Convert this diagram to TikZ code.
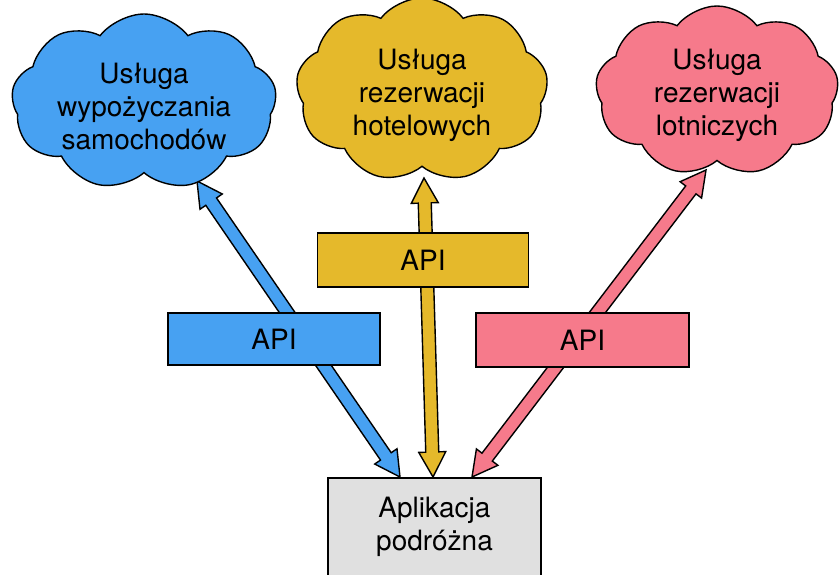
\documentclass[tikz,border=0pt]{standalone}
\usepackage{fontspec}
\setmainfont{TeX Gyre Heros}
\usetikzlibrary{shapes.symbols,calc}
\pgfdeclarelayer{background}
\pgfsetlayers{background,main}
\definecolor{cblue}{HTML}{47A1F2}
\definecolor{cyellow}{HTML}{E5B92B}
\definecolor{cpink}{HTML}{F67A8B}
\definecolor{cgray}{HTML}{E0E0E0}
\tikzset{
  outl/.style={draw=black, line width=1.4pt},
  cloudbox/.style={outl, cloud, cloud puffs=9, cloud puff arc=105, cloud ignores aspect,
    inner sep=0pt},
  labeltext/.style={align=center, font=\fontsize{28}{33}\selectfont},
  apibox/.style={outl, rectangle, inner sep=0pt, font=\fontsize{28}{33}\selectfont},
  appbox/.style={outl, rectangle, fill=cgray, inner sep=0pt, minimum width=213pt, minimum height=124pt},
}
\newcommand{\fatarr}[3]{%
  \coordinate (fa1) at ($(#2)!25pt!(#3)$);
  \coordinate (fb1) at ($(#3)!25pt!(#2)$);
  \draw[outl, fill=#1, line join=miter]
    (#2) -- ($(fa1)!13.5pt!90:(#3)$) -- ($(fa1)!6.5pt!90:(#3)$)
    -- ($(fb1)!6.5pt!-90:(#2)$) -- ($(fb1)!13.5pt!-90:(#2)$) -- (#3)
    -- ($(fb1)!13.5pt!90:(#2)$) -- ($(fb1)!6.5pt!90:(#2)$)
    -- ($(fa1)!6.5pt!-90:(#3)$) -- ($(fa1)!13.5pt!-90:(#3)$) -- cycle;
}
\begin{document}
\begin{tikzpicture}[x=1pt, y=-1pt]
\useasboundingbox (0,0) rectangle (840,574);
\clip (0,0) rectangle (840,574);
% clouds
\node[cloudbox, fill=cblue, minimum width=265pt, minimum height=176pt] (car) at (144,102) {};
\node[labeltext] (cartxt) at (144,106) {Usługa\\wypożyczania\\samochodów};
\node[cloudbox, fill=cyellow, minimum width=252pt, minimum height=184pt] (hotel) at (422,90) {};
\node[labeltext] (hoteltxt) at (422,95) {Usługa\\rezerwacji\\hotelowych};
\node[cloudbox, fill=cpink, minimum width=243pt, minimum height=170pt] (flight) at (717,91) {};
\node[labeltext] (flighttxt) at (717,95) {Usługa\\rezerwacji\\lotniczych};
% API boxes
\node[apibox, fill=cblue, minimum width=212pt, minimum height=52pt] (apicar) at (274,339) {API};
\node[apibox, fill=cyellow, minimum width=211pt, minimum height=54pt] (apihotel) at (423,260) {API};
\node[apibox, fill=cpink, minimum width=213pt, minimum height=54pt] (apiflight) at (582.5,340) {API};
% application
\node[appbox] (app) at (434.5,540) {};
\node[labeltext] (apptxt) at (434.5,527) {Aplikacja\\podróżna};
% arrow end points
\coordinate (tcar) at (197,181);
\coordinate (thotel) at (424,178);
\coordinate (tflight) at (706,170);
\coordinate (bcar) at (400,477);
\coordinate (bhotel) at (433,477);
\coordinate (bflight) at (472,477);
\begin{pgfonlayer}{background}
\fatarr{cblue}{tcar}{bcar}
\fatarr{cyellow}{thotel}{bhotel}
\fatarr{cpink}{tflight}{bflight}
\end{pgfonlayer}
\end{tikzpicture}
\end{document}
